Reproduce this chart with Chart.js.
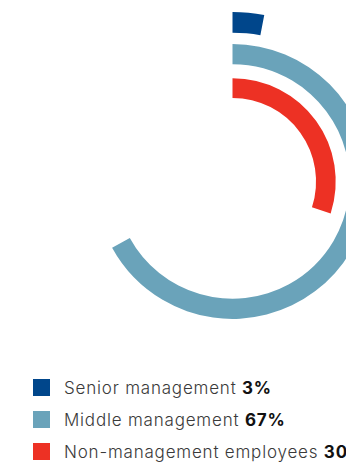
<!DOCTYPE html>
<html>
<head>
<meta charset="utf-8">
<script src="https://cdn.jsdelivr.net/npm/chart.js@4/dist/chart.umd.min.js"></script>
<style>
  html, body { margin: 0; padding: 0; background: #fff; }
  body { width: 346px; height: 466px; overflow: hidden; position: relative; }
  #chartWrap { position: absolute; left: 57px; top: 6px; width: 351px; height: 351px; }
  #legend { position: absolute; left: 33px; top: 379px; width: 400px; }
  .row { display: flex; align-items: center; height: 17px; margin-bottom: 15px; white-space: nowrap; }
  .swatch { width: 17px; height: 17px; flex: none; margin-right: 14px; }
  .label { font-family: Inter, "Liberation Sans", sans-serif; font-size: 17px; font-weight: 300; color: #3a3a3a; letter-spacing: 0.8px; }
  .label b { font-weight: 700; color: #111; }
</style>
</head>
<body>
<div id="chartWrap"><canvas id="ringChart"></canvas></div>
<div id="legend"></div>

<script>
// Staff categories and their shares (%)
const categories = ["Senior management", "Middle management", "Non-management employees"];
const shares = [3, 67, 30];
const colors = ["#00468b", "#6aa3ba", "#ed3124"];

// ring thickness and the gaps between rings (dataset weights)
const ringWeights = [20, 19.5, 19];
const gapWeights = [11, 13.5];

// one dataset per ring, outermost first, with a transparent spacer between rings
const datasets = [];
categories.forEach((cat, i) => {
  datasets.push({
    label: cat,
    data: [shares[i], 100 - shares[i]],
    backgroundColor: [colors[i], "rgba(0,0,0,0)"],
    borderWidth: 0,
    weight: ringWeights[i]
  });
  if (i < gapWeights.length) {
    datasets.push({
      label: "",
      data: [100],
      backgroundColor: ["rgba(0,0,0,0)"],
      borderWidth: 0,
      weight: gapWeights[i]
    });
  }
});

new Chart(document.getElementById("ringChart"), {
  type: "doughnut",
  data: { labels: ["share", "rest"], datasets: datasets },
  options: {
    responsive: true,
    maintainAspectRatio: false,
    animation: false,
    radius: 169.5,
    cutout: 86.5,
    hoverOffset: 0,
    layout: { padding: 0 },
    events: [],
    plugins: { legend: { display: false }, tooltip: { enabled: false } }
  }
});

// legend below the rings
const legend = document.getElementById("legend");
categories.forEach((cat, i) => {
  const row = document.createElement("div");
  row.className = "row";
  row.innerHTML = `<span class="swatch" style="background:${colors[i]}"></span><span class="label">${cat} <b>${shares[i]}%</b></span>`;
  legend.appendChild(row);
});
</script>
</body>
</html>
